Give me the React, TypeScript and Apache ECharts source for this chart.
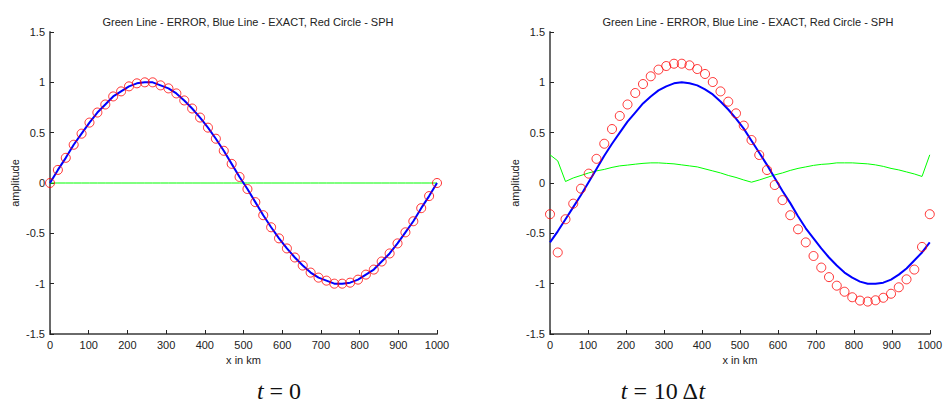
import React, { useEffect, useRef } from "react";
import * as echarts from "echarts";

const xKm = [
  0, 20.4, 40.8, 61.2, 81.6, 102, 122.4, 142.9, 163.3, 183.7, 204.1, 224.5, 244.9, 265.3, 285.7, 306.1,
  326.5, 346.9, 367.3, 387.8, 408.2, 428.6, 449, 469.4, 489.8, 510.2, 530.6, 551, 571.4, 591.8, 612.2,
  632.7, 653.1, 673.5, 693.9, 714.3, 734.7, 755.1, 775.5, 795.9, 816.3, 836.7, 857.1, 877.6, 898, 918.4,
  938.8, 959.2, 979.6, 1000,
];

// t = 0
const exact0 = [
  0, 0.13, 0.25, 0.38, 0.49, 0.6, 0.7, 0.78, 0.86, 0.91, 0.96, 0.99, 1, 1, 0.97, 0.94, 0.89, 0.82, 0.74,
  0.65, 0.55, 0.44, 0.32, 0.19, 0.06, -0.06, -0.19, -0.32, -0.44, -0.55, -0.65, -0.74, -0.82, -0.89, -0.94,
  -0.97, -1, -1, -0.99, -0.96, -0.91, -0.86, -0.78, -0.7, -0.6, -0.49, -0.38, -0.25, -0.13, 0,
];
const sph0 = [
  0, 0.13, 0.25, 0.38, 0.49, 0.6, 0.7, 0.78, 0.86, 0.91, 0.96, 0.99, 1, 1, 0.97, 0.94, 0.89, 0.82, 0.74,
  0.65, 0.55, 0.44, 0.32, 0.19, 0.06, -0.06, -0.19, -0.32, -0.44, -0.55, -0.65, -0.74, -0.82, -0.89, -0.94,
  -0.97, -1, -1, -0.99, -0.96, -0.91, -0.86, -0.78, -0.7, -0.6, -0.49, -0.38, -0.25, -0.13, 0,
];
const error0 = [
  0, 0, 0, 0, 0, 0, 0, 0, 0, 0, 0, 0, 0, 0, 0, 0, 0, 0, 0, 0, 0, 0, 0, 0, 0, 0, 0, 0, 0, 0, 0, 0, 0, 0, 0,
  0, 0, 0, 0, 0, 0, 0, 0, 0, 0, 0, 0, 0, 0, 0,
];

// t = 10 dt
const exact10 = [
  -0.59, -0.48, -0.36, -0.24, -0.12, 0.01, 0.14, 0.27, 0.39, 0.5, 0.61, 0.7, 0.79, 0.86, 0.92, 0.96, 0.99,
  1, 0.99, 0.97, 0.93, 0.88, 0.81, 0.73, 0.64, 0.54, 0.42, 0.3, 0.18, 0.05, -0.08, -0.2, -0.33, -0.45,
  -0.55, -0.65, -0.74, -0.82, -0.89, -0.94, -0.98, -1, -1, -0.99, -0.96, -0.91, -0.85, -0.77, -0.69, -0.59,
];
const sph10 = [
  -0.31, -0.69, -0.36, -0.205, -0.056, 0.093, 0.24, 0.39, 0.536, 0.666, 0.78, 0.894, 0.983, 1.06, 1.126,
  1.162, 1.185, 1.185, 1.169, 1.132, 1.083, 1.003, 0.91, 0.808, 0.692, 0.57, 0.427, 0.278, 0.129, -0.02,
  -0.17, -0.32, -0.46, -0.59, -0.725, -0.84, -0.935, -1.02, -1.08, -1.135, -1.168, -1.178, -1.165, -1.14,
  -1.1, -1.036, -0.957, -0.86, -0.635, -0.31,
];
const error10 = [
  0.28, 0.22, 0.015, 0.05, 0.075, 0.1, 0.12, 0.135, 0.155, 0.17, 0.178, 0.187, 0.195, 0.2, 0.2, 0.195,
  0.19, 0.18, 0.17, 0.16, 0.14, 0.12, 0.1, 0.075, 0.055, 0.03, 0.008, 0.03, 0.055, 0.08, 0.1, 0.125, 0.145,
  0.16, 0.175, 0.185, 0.19, 0.2, 0.2, 0.2, 0.195, 0.19, 0.18, 0.165, 0.145, 0.13, 0.11, 0.09, 0.065, 0.28,
];

const titleText = "Green Line - ERROR, Blue Line - EXACT, Red Circle - SPH";
const xName = "x in km";
const yName = "amplitude";
const captions = ["{i|t}{e|=}{n|0}", "{i|t}{e|=}{n|10 Δ}{i|t}"];

const SANS = "'Liberation Sans', Arial, Helvetica, sans-serif";
const SERIF = "'Liberation Serif', 'Times New Roman', serif";

function pairs(xs: number[], ys: number[]) {
  return xs.map((x, i) => [x, ys[i]]);
}

export default function App() {
  const ref = useRef<HTMLDivElement>(null);

  useEffect(() => {
    if (!ref.current) return;
    const chart = echarts.init(ref.current, null, { renderer: "svg" });

    const xAxisBase = (gridIndex: number) => ({
      gridIndex,
      type: "value",
      min: 0,
      max: 1000,
      interval: 100,
      name: xName,
      nameLocation: "middle",
      nameGap: 20,
      nameTextStyle: { fontSize: 11, color: "#222", fontFamily: SANS },
      axisLine: { show: true, onZero: false, lineStyle: { color: "#6a6a6a", width: 2 } },
      axisTick: { show: true, inside: true, length: 4, lineStyle: { color: "#222", width: 1 } },
      axisLabel: {
        fontSize: 11,
        color: "#222",
        fontFamily: SANS,
        margin: 5,
        formatter: (v: number) => String(v),
      },
      splitLine: { show: false },
    });
    const yAxisBase = (gridIndex: number) => ({
      gridIndex,
      type: "value",
      min: -1.5,
      max: 1.5,
      interval: 0.5,
      name: yName,
      nameLocation: "middle",
      nameRotate: 90,
      nameGap: 30,
      nameTextStyle: { fontSize: 11, color: "#222", fontFamily: SANS },
      axisLine: { show: true, onZero: false, lineStyle: { color: "#6a6a6a", width: 2 } },
      axisTick: { show: true, inside: true, length: 4, lineStyle: { color: "#222", width: 1 } },
      axisLabel: {
        fontSize: 11,
        color: "#222",
        fontFamily: SANS,
        margin: 5,
        formatter: (v: number) => String(v),
      },
      splitLine: { show: false },
    });

    const seriesFor = (idx: number, exact: number[], sph: number[], err: number[]) => [
      {
        type: "line",
        xAxisIndex: idx,
        yAxisIndex: idx,
        data: pairs(xKm, err),
        showSymbol: false,
        lineStyle: { color: "#00ff00", width: 1 },
        clip: false,
        z: 2,
      },
      {
        type: "line",
        xAxisIndex: idx,
        yAxisIndex: idx,
        data: pairs(xKm, exact),
        showSymbol: false,
        lineStyle: { color: "#0000ff", width: 2 },
        clip: false,
        z: 3,
      },
      {
        type: "scatter",
        xAxisIndex: idx,
        yAxisIndex: idx,
        data: pairs(xKm, sph),
        symbol: "circle",
        symbolSize: 9,
        itemStyle: { color: "rgba(0,0,0,0)", borderColor: "#ff0000", borderWidth: 1 },
        clip: false,
        z: 4,
      },
    ];

    const base = { fontFamily: SERIF, fontSize: 24, fontWeight: "normal", color: "#111", lineHeight: 28 };
    const capRich = {
      i: { ...base, fontStyle: "italic" },
      n: { ...base },
      e: { ...base, padding: [0, 6, 0, 6] },
    };

    chart.setOption({
      animation: false,
      backgroundColor: "#ffffff",
      title: [
        {
          text: titleText,
          left: 243,
          top: 11,
          textAlign: "center",
          textStyle: { fontSize: 11, fontWeight: "normal", color: "#222", fontFamily: SANS },
        },
        {
          text: titleText,
          left: 743,
          top: 11,
          textAlign: "center",
          textStyle: { fontSize: 11, fontWeight: "normal", color: "#222", fontFamily: SANS },
        },
        {
          text: captions[0],
          left: 279,
          top: 377,
          padding: 0,
          textAlign: "center",
          textStyle: { fontWeight: "normal", fontSize: 24, lineHeight: 28, rich: capRich },
        },
        {
          text: captions[1],
          left: 663,
          top: 377,
          padding: 0,
          textAlign: "center",
          textStyle: { fontWeight: "normal", fontSize: 24, lineHeight: 28, rich: capRich },
        },
      ],
      grid: [
        { left: 50, top: 32, width: 387, height: 302 },
        { left: 550, top: 32, width: 387, height: 302 },
      ],
      xAxis: [xAxisBase(0), xAxisBase(1)],
      yAxis: [yAxisBase(0), yAxisBase(1)],
      series: [
        ...seriesFor(0, exact0, sph0, error0),
        ...seriesFor(1, exact10, sph10, error10),
      ],
    });

    return () => chart.dispose();
  }, []);

  return (
    <div
      ref={ref}
      style={{ position: "fixed", left: 0, top: 0, width: 945, height: 405, background: "#fff" }}
    />
  );
}
